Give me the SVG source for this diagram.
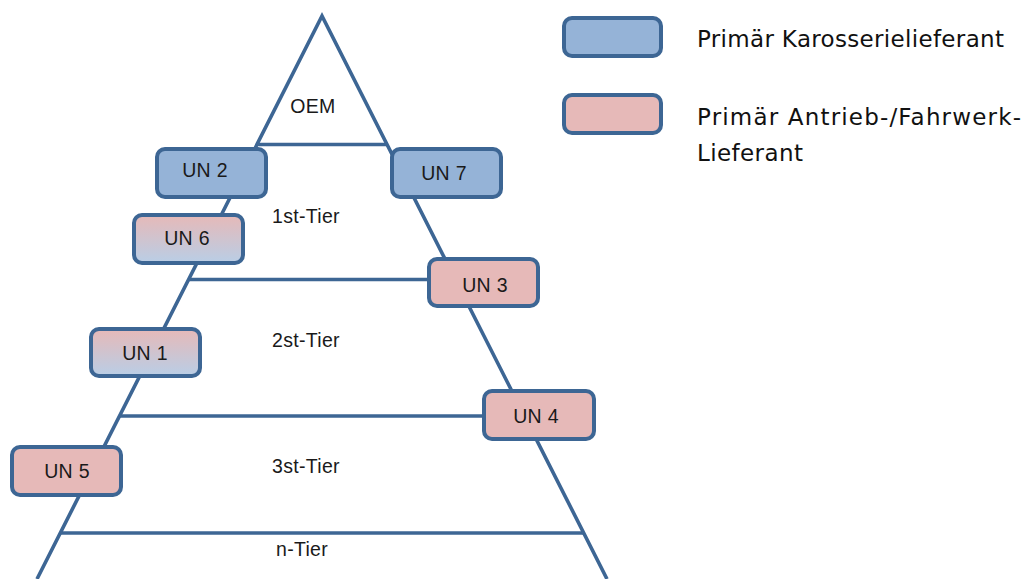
<svg xmlns="http://www.w3.org/2000/svg" width="1026" height="579" viewBox="0 0 1026 579">
<defs>
<linearGradient id="mix" x1="0" y1="0" x2="0" y2="1">
<stop offset="0" stop-color="#E6B9B8"/>
<stop offset="1" stop-color="#B9CEE6"/>
</linearGradient>
<style>
.ln{fill:none;stroke:#3D6694;stroke-width:3.6;stroke-linejoin:miter}
.box{stroke:#3D6694;stroke-width:4}
.blue{fill:#95B3D7}
.pink{fill:#E6B9B8}
.mix{fill:url(#mix)}
.t{font-family:"Liberation Sans",Arial,sans-serif;font-size:19.5px;letter-spacing:0.3px;fill:#1A1A1A;text-anchor:middle}
.lg{font-family:"DejaVu Sans","Liberation Sans",sans-serif;font-size:23px;fill:#111111}
</style>
</defs>
<rect width="1026" height="579" fill="#FFFFFF"/>
<g id="connectors">
<polyline class="ln" points="37,579 322,16 607,579"/>
<line class="ln" x1="256.7" y1="144.5" x2="387.3" y2="144.5"/>
<line class="ln" x1="189" y1="279.5" x2="455" y2="279.5"/>
<line class="ln" x1="119.6" y1="416" x2="524.4" y2="416"/>
<line class="ln" x1="60.4" y1="533" x2="583.6" y2="533"/>
</g>
<g id="tiers">
<text class="t" x="313" y="113">OEM</text>
<text class="t" x="306" y="223">1st-Tier</text>
<text class="t" x="306" y="347">2st-Tier</text>
<text class="t" x="306" y="473">3st-Tier</text>
<text class="t" x="302" y="556">n-Tier</text>
</g>
<g id="un2"><rect class="box blue" x="157" y="149" width="109" height="48" rx="8"/><text class="t" x="205" y="177">UN 2</text></g>
<g id="un7"><rect class="box blue" x="392" y="149" width="109" height="48" rx="8"/><text class="t" x="444" y="180">UN 7</text></g>
<g id="un6"><rect class="box mix" x="134" y="215" width="109" height="48" rx="8"/><text class="t" x="187" y="245">UN 6</text></g>
<g id="un3"><rect class="box pink" x="429" y="259" width="109" height="47" rx="8"/><text class="t" x="485" y="292">UN 3</text></g>
<g id="un1"><rect class="box mix" x="91" y="329" width="109" height="47" rx="8"/><text class="t" x="145" y="360">UN 1</text></g>
<g id="un4"><rect class="box pink" x="484" y="391" width="110" height="48" rx="8"/><text class="t" x="536" y="423">UN 4</text></g>
<g id="un5"><rect class="box pink" x="12" y="447" width="109" height="48" rx="8"/><text class="t" x="67" y="478">UN 5</text></g>
<g id="legend-body">
<rect class="box blue" x="564" y="18" width="97" height="38" rx="8"/>
<text class="lg" x="697" y="47" textLength="307" lengthAdjust="spacing">Primär Karosserielieferant</text>
</g>
<g id="legend-drive">
<rect class="box pink" x="564" y="95" width="97" height="38" rx="8"/>
<text class="lg" x="697" y="125" textLength="324" lengthAdjust="spacing">Primär Antrieb-/Fahrwerk-</text>
<text class="lg" x="697" y="161" textLength="106" lengthAdjust="spacing">Lieferant</text>
</g>
</svg>
